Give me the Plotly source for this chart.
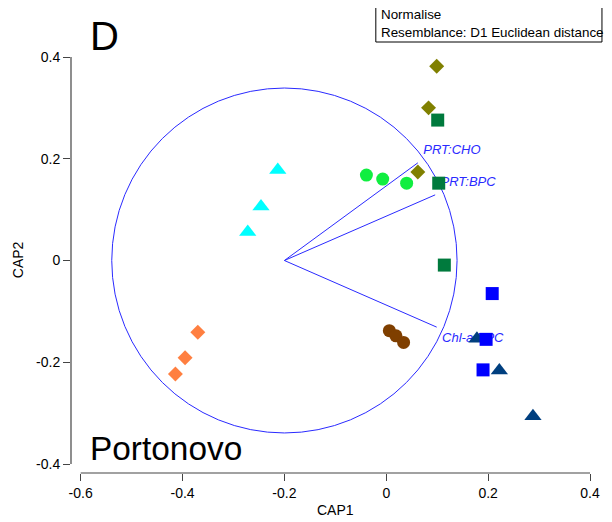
import plotly.graph_objects as go

# ---------------- data ----------------
olive_x = [0.099, 0.083, 0.062]
olive_y = [0.382, 0.300, 0.174]
dgreen_x = [0.101, 0.103, 0.114]
dgreen_y = [0.276, 0.152, -0.009]
green_x = [-0.039, -0.007, 0.040]
green_y = [0.168, 0.160, 0.152]
cyan_x = [-0.213, -0.246, -0.272]
cyan_y = [0.178, 0.106, 0.056]
orange_x = [-0.370, -0.395, -0.414]
orange_y = [-0.141, -0.191, -0.223]
brown_x = [0.006, 0.019, 0.034]
brown_y = [-0.138, -0.148, -0.161]
navy_x = [0.178, 0.222, 0.288]
navy_y = [-0.154, -0.216, -0.306]
blue_x = [0.208, 0.196, 0.190]
blue_y = [-0.065, -0.155, -0.215]

vec_names = ["PRT:CHO", "PRT:BPC", "Chl-a:BPC"]
vec_x = [0.062, 0.096, 0.099]
vec_y = [0.192, 0.129, -0.131]
vec_origin = (-0.2, 0.0)
circle_r = 0.339

x_ticks = [-0.6, -0.4, -0.2, 0, 0.2, 0.4]
x_ticklabels = ["-0.6", "-0.4", "-0.2", "0", "0.2", "0.4"]
y_ticks = [-0.4, -0.2, 0, 0.2, 0.4]
y_ticklabels = ["-0.4", "-0.2", "0", "0.2", "0.4"]

# ---------------- layout geometry ----------------
OFF = 8  # page body margin
W, H = 612 - OFF, 522 - OFF
L, T = 71 - OFF, 57 - OFF
R = W - (592 - OFF)
B = H - (473 - OFF)
PW, PH = W - L - R, H - T - B
XR = [-0.619, 0.4]
YR = [-0.4177, 0.4]

def px(xp):
    return (xp - OFF - L) / PW

def py(yp):
    return (H - B - (yp - OFF)) / PH

FONT = "Arial, Liberation Sans, sans-serif"
VCOL = "#2a2aff"
AXC = "#444444"

fig = go.Figure()

# vectors
for name, ex, ey in zip(vec_names, vec_x, vec_y):
    fig.add_trace(go.Scatter(x=[vec_origin[0], ex], y=[vec_origin[1], ey], mode="lines",
                             line=dict(color=VCOL, width=1), showlegend=False, hoverinfo="skip"))

# vector labels (invisible markers just push the text off the vector tip)
fig.add_trace(go.Scatter(x=vec_x[:2], y=vec_y[:2], mode="markers+text", text=vec_names[:2],
                         textposition="top right", cliponaxis=False,
                         marker=dict(size=7, opacity=0),
                         textfont=dict(family=FONT, size=13, color=VCOL, style="italic"),
                         showlegend=False, hoverinfo="skip"))
fig.add_trace(go.Scatter(x=vec_x[2:], y=vec_y[2:], mode="markers+text", text=vec_names[2:],
                         textposition="bottom right", cliponaxis=False,
                         marker=dict(size=7, opacity=0),
                         textfont=dict(family=FONT, size=13, color=VCOL, style="italic"),
                         showlegend=False, hoverinfo="skip"))

def pts(x, y, sym, col, size):
    fig.add_trace(go.Scatter(x=x, y=y, mode="markers", cliponaxis=False,
                             marker=dict(symbol=sym, color=col, size=size, line=dict(width=0)),
                             showlegend=False))

pts(olive_x, olive_y, "diamond", "#808000", 11.5)
pts(dgreen_x, dgreen_y, "square", "#007a3d", 13)
pts(green_x, green_y, "circle", "#10ee40", 13)
pts(cyan_x, cyan_y, "triangle-up", "#00ffff", 15)
pts(orange_x, orange_y, "diamond", "#ff7f40", 11.5)
pts(brown_x, brown_y, "circle", "#7f3f00", 13)
pts(navy_x, navy_y, "triangle-up", "#003f7f", 15)
pts(blue_x, blue_y, "square", "#0000ff", 13)

# circle
fig.add_shape(type="circle", xref="x", yref="y",
              x0=vec_origin[0] - circle_r, x1=vec_origin[0] + circle_r,
              y0=vec_origin[1] - circle_r, y1=vec_origin[1] + circle_r,
              line=dict(color=VCOL, width=1), layer="below")

# axis lines (spanning only the tick range)
fig.add_shape(type="line", xref="x", yref="paper", x0=x_ticks[0], x1=x_ticks[-1], y0=0, y1=0,
              line=dict(color=AXC, width=1.2))
fig.add_shape(type="line", xref="paper", yref="y", x0=0, x1=0, y0=y_ticks[0], y1=y_ticks[-1],
              line=dict(color=AXC, width=1.2))

# resemblance box
fig.add_shape(type="rect", xref="paper", yref="paper", x0=px(377), x1=px(604), y0=py(42), y1=py(6),
              line=dict(color="black", width=1))

ann = [
    dict(text="Normalise", x=px(380), y=py(15), xanchor="left", yanchor="middle",
         font=dict(family=FONT, size=13.4, color="black")),
    dict(text="Resemblance: D1 Euclidean distance", x=px(380), y=py(33), xanchor="left",
         yanchor="middle", font=dict(family=FONT, size=13.4, color="black")),
    dict(text="D", x=px(88), y=py(36), xanchor="left", yanchor="middle",
         font=dict(family=FONT, size=40, color="black")),
    dict(text="Portonovo", x=px(88), y=py(448), xanchor="left", yanchor="middle",
         font=dict(family=FONT, size=33.4, color="black")),
    dict(text="CAP1", x=px(337), y=py(510), xanchor="center", yanchor="middle",
         font=dict(family=FONT, size=14, color="black")),
    dict(text="CAP2", x=px(18), y=py(260), xanchor="center", yanchor="middle", textangle=-90,
         font=dict(family=FONT, size=14, color="black")),
]
for a in ann:
    a.update(xref="paper", yref="paper", showarrow=False)

fig.update_layout(
    width=W, height=H, margin=dict(l=L, r=R, t=T, b=B),
    paper_bgcolor="white", plot_bgcolor="white",
    annotations=ann, showlegend=False,
    xaxis=dict(range=XR, showgrid=False, zeroline=False, showline=False,
               tickmode="array", tickvals=x_ticks, ticktext=x_ticklabels,
               ticks="outside", ticklen=7, tickwidth=1.2, tickcolor=AXC,
               tickfont=dict(family=FONT, size=14, color="black")),
    yaxis=dict(range=YR, showgrid=False, zeroline=False, showline=False,
               tickmode="array", tickvals=y_ticks, ticktext=y_ticklabels,
               ticks="outside", ticklen=7, tickwidth=1.2, tickcolor=AXC,
               tickfont=dict(family=FONT, size=14, color="black")),
    xaxis2=dict(range=XR, overlaying="x", anchor="y", side="bottom", showgrid=False,
                zeroline=False, showline=False, showticklabels=False,
                tickmode="array", tickvals=x_ticks, ticks="inside", ticklen=6,
                tickwidth=1.2, tickcolor=AXC),
    yaxis2=dict(range=YR, overlaying="y", anchor="x", side="left", showgrid=False,
                zeroline=False, showline=False, showticklabels=False,
                tickmode="array", tickvals=y_ticks, ticks="inside", ticklen=6,
                tickwidth=1.2, tickcolor=AXC),
)

fig.write_html("out.html")
